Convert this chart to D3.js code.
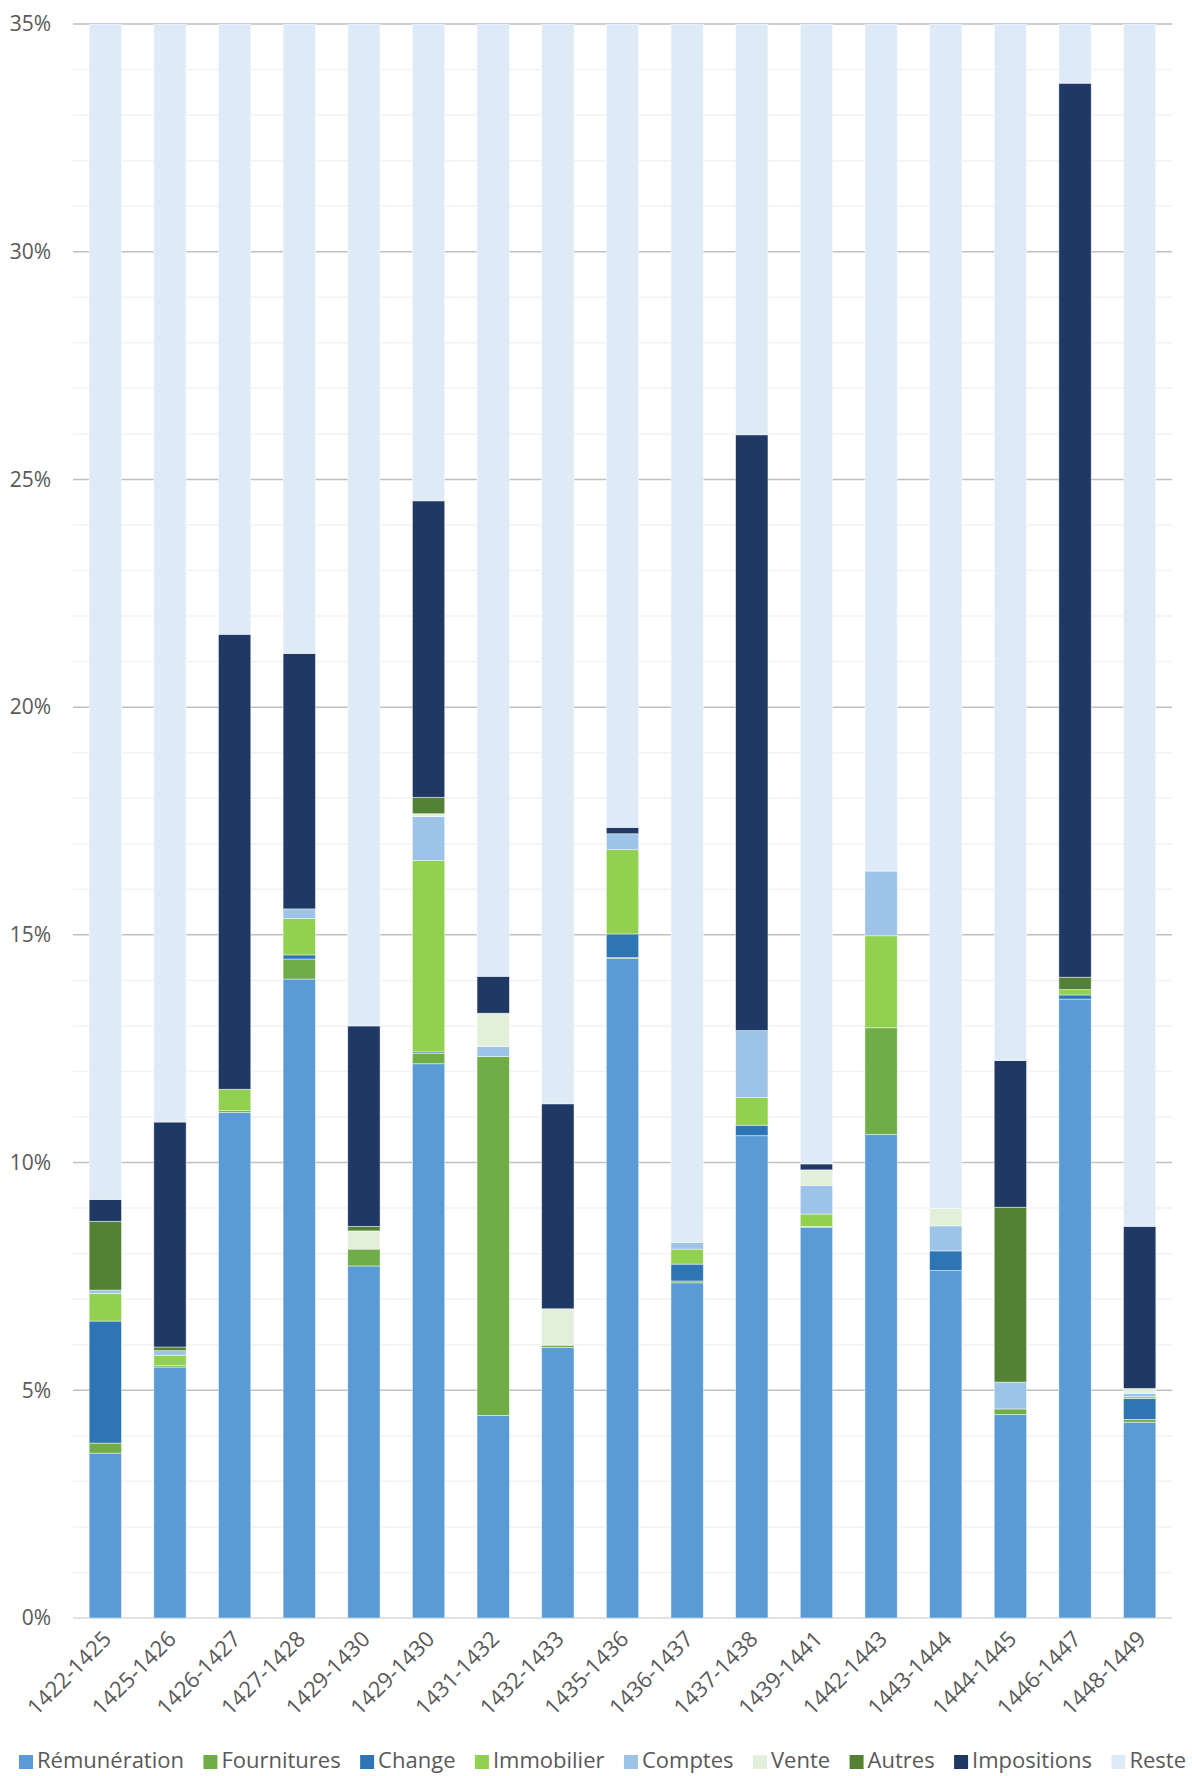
<!DOCTYPE html>
<html>
<head>
<meta charset="utf-8">
<script src="https://cdn.jsdelivr.net/npm/d3@7"></script>
<style>
  body { margin: 0; background: #fff; }
  svg text { font-family: "Open Sans", "Liberation Sans", sans-serif; fill: #595959; }
</style>
</head>
<body>
<div id="chart"></div>
<script>
// periods on the x axis
const periods = ['1422-1425', '1425-1426', '1426-1427', '1427-1428', '1429-1430', '1429-1430',
  '1431-1432', '1432-1433', '1435-1436', '1436-1437', '1437-1438', '1439-1441',
  '1442-1443', '1443-1444', '1444-1445', '1446-1447', '1448-1449'];

// series, bottom to top (values in %)
const remuneration = [3.62, 5.51, 11.10, 14.03, 7.73, 12.17, 4.45, 5.94, 14.48, 7.36, 10.59, 8.58, 10.62, 7.63, 4.47, 13.59, 4.30];
const fournitures  = [0.22, 0.03, 0.04, 0.44, 0.37, 0.23, 7.88, 0.05, 0.02, 0.04, 0.00, 0.02, 2.34, 0.00, 0.12, 0.00, 0.06];
const change       = [2.68, 0.00, 0.00, 0.09, 0.00, 0.03, 0.00, 0.00, 0.52, 0.37, 0.23, 0.00, 0.00, 0.43, 0.00, 0.09, 0.46];
const immobilier   = [0.61, 0.23, 0.47, 0.80, 0.00, 4.20, 0.00, 0.00, 1.85, 0.33, 0.61, 0.27, 2.02, 0.00, 0.00, 0.12, 0.04];
const comptes      = [0.07, 0.10, 0.00, 0.21, 0.00, 0.97, 0.22, 0.00, 0.35, 0.15, 1.47, 0.63, 1.42, 0.55, 0.59, 0.00, 0.07];
const vente        = [0.00, 0.00, 0.00, 0.00, 0.40, 0.06, 0.73, 0.80, 0.00, 0.00, 0.00, 0.34, 0.00, 0.38, 0.00, 0.00, 0.11];
const autres       = [1.51, 0.08, 0.00, 0.00, 0.10, 0.36, 0.00, 0.00, 0.00, 0.00, 0.00, 0.00, 0.00, 0.00, 3.84, 0.27, 0.00];
const impositions  = [0.48, 4.94, 9.99, 5.61, 4.40, 6.51, 0.81, 4.50, 0.14, 0.00, 13.08, 0.13, 0.00, 0.00, 3.22, 19.63, 3.56];
const reste        = [90.81, 89.11, 78.40, 78.82, 87.00, 75.47, 85.91, 88.71, 82.64, 91.75, 74.02, 90.03, 83.60, 91.01, 87.76, 66.30, 91.40];

const seriesNames = ['Rémunération', 'Fournitures', 'Change', 'Immobilier', 'Comptes', 'Vente', 'Autres', 'Impositions', 'Reste'];
const seriesValues = [remuneration, fournitures, change, immobilier, comptes, vente, autres, impositions, reste];
const colors = ['#5B9BD5', '#70AD47', '#2E75B6', '#92D050', '#9DC3E6', '#E2EFDA', '#548235', '#203864', '#DEEBF7'];

const yTicks = [0, 5, 10, 15, 20, 25, 30, 35];
const yMax = 35;

const width = 1192, height = 1776;
const margin = {left: 73, right: 20, top: 24, bottom: 158};

const svg = d3.select('#chart').append('svg')
  .attr('width', width)
  .attr('height', height);

const x = d3.scaleBand()
  .domain(d3.range(periods.length))
  .range([margin.left, width - margin.right])
  .paddingInner(0.5)
  .paddingOuter(0.25);

const y = d3.scaleLinear()
  .domain([0, yMax])
  .range([height - margin.bottom, margin.top]);

// rows for the stack
const rows = periods.map((p, i) => {
  const r = {i};
  seriesNames.forEach((s, k) => r[s] = seriesValues[k][i]);
  return r;
});
const stacked = d3.stack().keys(seriesNames)(rows);

// gridlines
const grid = svg.append('g');
grid.selectAll('.minor')
  .data(d3.range(0, yMax + 1, 1).filter(v => v % 5 !== 0))
  .join('line')
  .attr('x1', margin.left).attr('x2', width - margin.right)
  .attr('y1', d => y(d)).attr('y2', d => y(d))
  .attr('stroke', '#F2F2F2').attr('stroke-width', 1.5);

grid.selectAll('.major')
  .data(yTicks)
  .join('line')
  .attr('x1', margin.left).attr('x2', width - margin.right)
  .attr('y1', d => y(d)).attr('y2', d => y(d))
  .attr('stroke', d => d === 0 ? '#D9D9D9' : '#BFBFBF').attr('stroke-width', 1.5);

// clip so the reste series stops at 35%
svg.append('clipPath').attr('id', 'plot-clip')
  .append('rect')
  .attr('x', margin.left).attr('y', y(yMax))
  .attr('width', width - margin.left - margin.right)
  .attr('height', y(0) - y(yMax));

const bars = svg.append('g').attr('clip-path', 'url(#plot-clip)');
bars.selectAll('g')
  .data(stacked)
  .join('g')
  .attr('fill', (d, k) => colors[k])
  .selectAll('rect')
  .data(d => d.filter(s => s[1] - s[0] > 0))
  .join('rect')
  .attr('x', d => x(d.data.i))
  .attr('width', x.bandwidth())
  .attr('y', d => y(Math.min(d[1], yMax)))
  .attr('height', d => Math.max(0, y(d[0]) - y(Math.min(d[1], yMax))))
  .attr('stroke', '#fff')
  .attr('stroke-opacity', 0.6)
  .attr('stroke-width', 0.75);

// y axis labels
const yAxis = d3.axisLeft(y).tickValues(yTicks).tickFormat(d => d + '%').tickSize(0).tickPadding(0);
svg.append('g')
  .attr('transform', `translate(${margin.left - 22},0)`)
  .call(yAxis)
  .call(g => g.select('.domain').remove())
  .call(g => g.selectAll('text')
    .style('font-size', '21px')
    .attr('fill', '#595959'));

// x axis labels, rotated -45 and ending under each bar
svg.append('g')
  .selectAll('text')
  .data(d3.range(periods.length))
  .join('text')
  .attr('transform', i => `translate(${x(i) + x.bandwidth() / 2 + 2},${y(0) + 17}) rotate(-45)`)
  .attr('text-anchor', 'end')
  .attr('dy', '0.35em')
  .style('font-size', '22px')
  .text(i => periods[i]);

// legend, spread over the full width
const legend = svg.append('g').attr('transform', `translate(0,${height - 8})`);
const items = legend.selectAll('g')
  .data(seriesNames)
  .join('g');
items.append('rect')
  .attr('width', 14).attr('height', 14)
  .attr('y', -13)
  .attr('fill', (d, k) => colors[k]);
items.append('text')
  .attr('x', 18)
  .style('font-size', '22px')
  .text(d => d);

const legendLeft = 19, legendRight = 1186;
const itemWidths = [];
items.each(function () { itemWidths.push(18 + d3.select(this).select('text').node().getComputedTextLength()); });
const gap = (legendRight - legendLeft - d3.sum(itemWidths)) / (itemWidths.length - 1);
let cx = legendLeft;
items.attr('transform', (d, k) => {
  const t = `translate(${cx},0)`;
  cx += itemWidths[k] + gap;
  return t;
});
</script>
</body>
</html>
